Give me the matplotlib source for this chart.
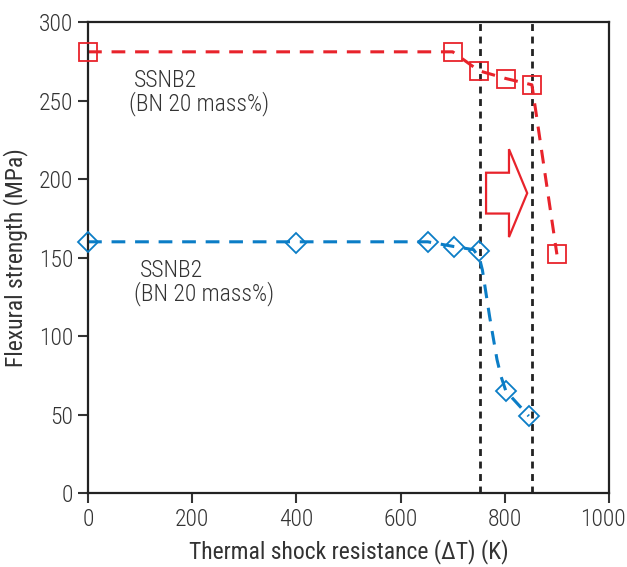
import matplotlib.pyplot as plt
from matplotlib.patches import FancyArrow
from matplotlib.transforms import ScaledTranslation

# data
red_x = [0, 700, 750, 802, 852, 900]
red_y = [281, 281, 269, 264, 260, 152]

blue_x = [0, 400, 652, 702, 751, 802, 846]
blue_y = [160, 159, 160, 157, 154, 65, 49]

# dashed trend curve drawn through the blue points
blue_fit_x = [0, 652, 702, 740, 751, 757, 771, 785, 793, 802, 846]
blue_fit_y = [160, 160, 157, 155, 150, 142, 112, 85, 74, 65, 49]

vlines = [753, 853]
xticks = [0, 200, 400, 600, 800, 1000]
yticks = [0, 50, 100, 150, 200, 250, 300]

red = '#e8232b'
blue = '#0b7dc6'
txt = '#333333'

plt.rcParams['font.family'] = ['Roboto Condensed', 'DejaVu Sans']
plt.rcParams['font.weight'] = 300
fs = 17

fig = plt.figure(figsize=(6.27, 5.67), dpi=100)
ax = fig.add_axes([0.1404, 0.1305, 0.8309, 0.8307])

for v in vlines:
    ax.axvline(v, color='#222222', lw=2, ls=(0, (2.5, 2)), zorder=1)

ax.plot(red_x, red_y, color=red, lw=2.2, ls=(0, (4.5, 3.2)), zorder=2)
ax.plot(red_x, red_y, ls='none', marker='s', ms=13.5, mfc='none', mec=red, mew=1.3,
        zorder=3, clip_on=False)

ax.plot(blue_fit_x, blue_fit_y, color=blue, lw=2.2, ls=(0, (4.5, 3.2)), zorder=2)
ax.plot(blue_x, blue_y, ls='none', marker='D', ms=10.5, mfc='none', mec=blue, mew=1.3,
        zorder=3, clip_on=False)

# hollow block arrow
ax.add_patch(FancyArrow(764, 191, 79, 0, width=26, head_width=56, head_length=35,
                        length_includes_head=True, fc='none', ec=red, lw=1.6, zorder=3))

ax.text(88, 263, 'SSNB2', fontsize=fs, color=txt, va='center')
ax.text(78, 248, '(BN 20 mass%)', fontsize=fs, color=txt, va='center')
ax.text(100, 142, 'SSNB2', fontsize=fs, color=txt, va='center')
ax.text(88, 127, '(BN 20 mass%)', fontsize=fs, color=txt, va='center')

ax.set_xlim(0, 1000)
ax.set_ylim(0, 300)
ax.set_xticks(xticks)
ax.set_yticks(yticks)
ax.tick_params(direction='out', length=7, width=1.5, labelsize=fs, colors=txt, labelcolor=txt)
for s in ax.spines.values():
    s.set_linewidth(1.6)
    s.set_color('#222222')

# last x tick label sits a little left, as in the original
last = ax.get_xticklabels()[-1]
last.set_transform(last.get_transform() + ScaledTranslation(-6 / 100, 0, fig.dpi_scale_trans))

ax.set_xlabel('Thermal shock resistance (ΔT) (K)', fontsize=fs, color=txt, labelpad=6)
ax.set_ylabel('Flexural strength (MPa)', fontsize=fs, color=txt, labelpad=8)

fig.savefig('out.png', dpi=100)
